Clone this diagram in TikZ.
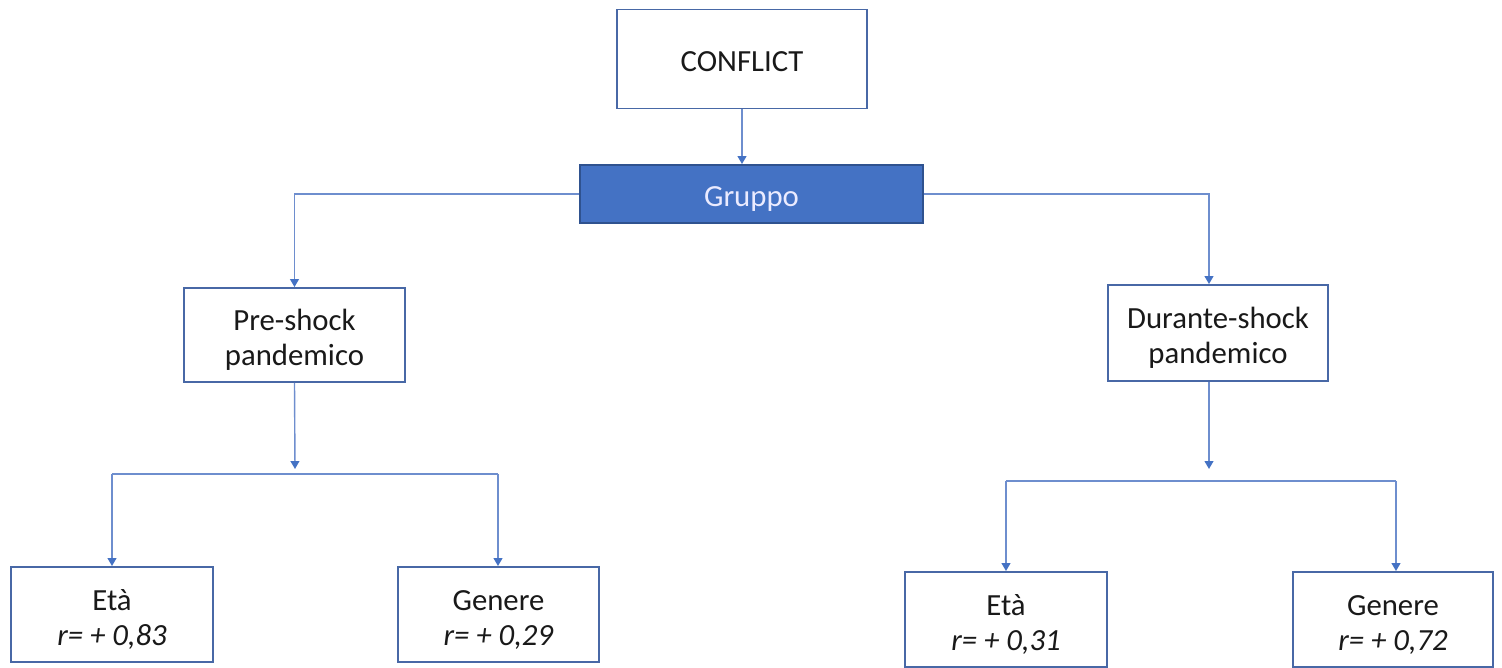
\documentclass[tikz,border=0pt]{standalone}
\usepackage{fontspec}
\setmainfont{Carlito}
\usetikzlibrary{arrows.meta}
\definecolor{boxline}{RGB}{72,104,166}
\definecolor{linkline}{RGB}{110,142,206}
\definecolor{gruppofill}{RGB}{68,114,196}
\definecolor{gruppoline}{RGB}{47,82,143}
\tikzset{
  box/.style={draw=boxline, line width=1.1pt, fill=white, align=center,
    text=black!90, font=\fontsize{17.5}{20}\selectfont, inner sep=0pt,
    text height=14pt, text depth=0pt},
  twoline/.style={box, text height=35pt},
  link/.style={draw=linkline, line width=0.8pt},
  arrow/.style={link, -{Triangle[width=5pt,length=4.5pt,color=gruppofill]}}
}

\begin{document}
\begin{tikzpicture}[x=0.02cm, y=-0.02cm]
\useasboundingbox (0,0) rectangle (1502,668);
\node[box, minimum width=5cm, minimum height=1.98cm] (conflict) at (742,59) {CONFLICT};
\node[box, fill=gruppofill, draw=gruppoline, text=white!92!blue, minimum width=6.86cm, minimum height=1.16cm] (gruppo) at (751.5,194) {Gruppo};
\node[twoline, minimum width=4.42cm, minimum height=1.88cm] (pre) at (294.5,335) {Pre-shock\\pandemico};
\node[twoline, minimum width=4.4cm, minimum height=1.92cm] (dur) at (1218,333) {Durante-shock\\pandemico};
\node[twoline, minimum width=4.04cm, minimum height=1.9cm] (preeta) at (112,614.5) {Età\\\textit{r= + 0,83}};
\node[twoline, minimum width=4.02cm, minimum height=1.9cm] (pregen) at (498.5,614.5) {Genere\\\textit{r= + 0,29}};
\node[twoline, minimum width=4.04cm, minimum height=1.9cm] (dureta) at (1006,619.5) {Età\\\textit{r= + 0,31}};
\node[twoline, minimum width=4cm, minimum height=1.9cm] (durgen) at (1393,619.5) {Genere\\\textit{r= + 0,72}};

\coordinate (presplit) at (295,469);
\coordinate (durtip) at (1209,469);
\coordinate (pl) at (112,474);
\coordinate (pr) at (498,474);
\coordinate (dl) at (1006,481);
\coordinate (dr) at (1396,481);

\draw[arrow] (conflict.south) -- (conflict.south |- gruppo.north);
\draw[arrow] (gruppo.west) -| (pre.north);
\draw[arrow] (gruppo.east) -| (durtip |- dur.north);
\draw[arrow] (pre.south) -- (presplit);
\draw[arrow] (durtip |- dur.south) -- (durtip);
\draw[link] (pl) -- (pr);
\draw[link] (dl) -- (dr);
\draw[arrow] (pl) -- (preeta.north);
\draw[arrow] (pr) -- (pr |- pregen.north);
\draw[arrow] (dl) -- (dureta.north);
\draw[arrow] (dr) -- (dr |- durgen.north);
\end{tikzpicture}
\end{document}
